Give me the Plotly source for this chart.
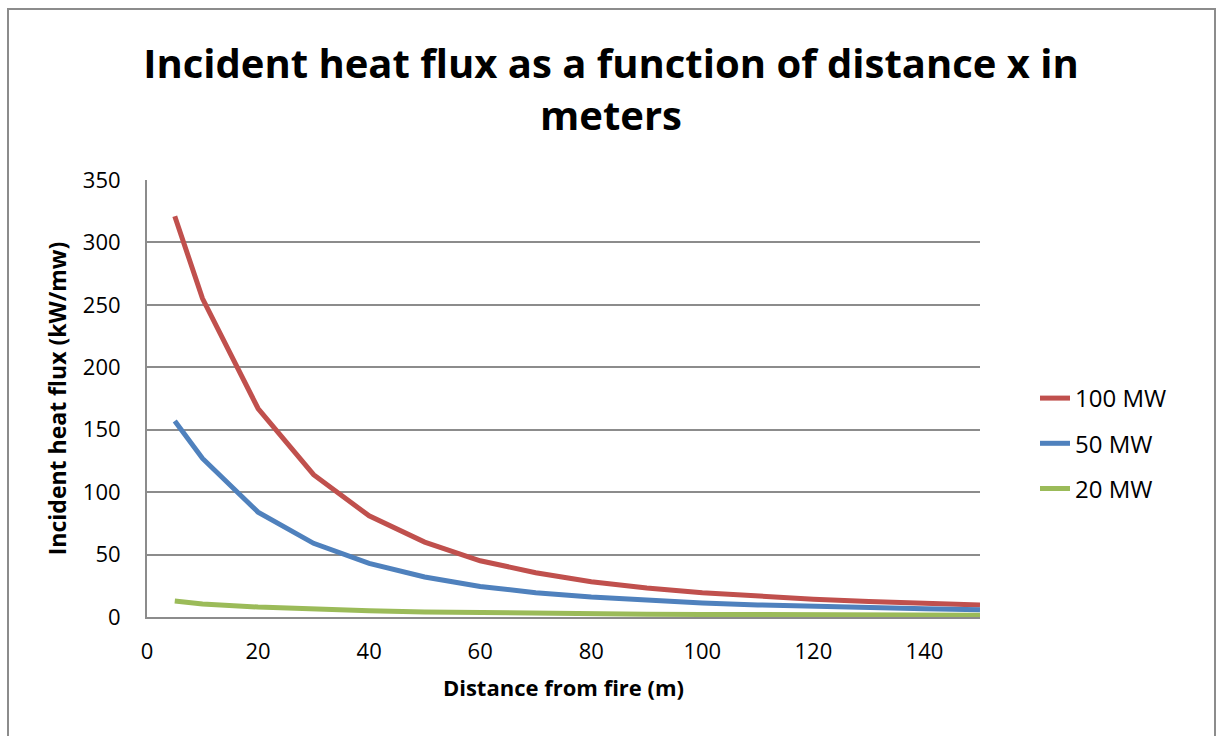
import plotly.graph_objects as go

# Distance from the fire (m)
distance = [5, 10, 20, 30, 40, 50, 60, 70, 80, 90, 100, 110, 120, 130, 140, 150]

# Incident heat flux for each fire size
flux_100mw = [321, 255, 167, 114, 81, 60, 45, 35.5, 28.3, 23.2, 19.5, 16.5, 14.2, 12.4, 10.9, 9.7]
flux_50mw = [157, 127, 84, 59, 43, 32, 24.5, 19.5, 16, 13.3, 11.3, 9.7, 8.4, 7.4, 6.6, 5.9]
flux_20mw = [12.8, 10.5, 8, 6.3, 5, 4, 3.4, 2.9, 2.6, 2.3, 2.1, 1.9, 1.8, 1.6, 1.5, 1.4]

series = [
    ("100 MW", flux_100mw, "#C0504D"),
    ("50 MW", flux_50mw, "#4F81BD"),
    ("20 MW", flux_20mw, "#9BBB59"),
]

FONT = "Open Sans"

fig = go.Figure()
for name, values, color in series:
    fig.add_trace(go.Scatter(
        x=distance, y=values, name=name, mode="lines",
        line=dict(color=color, width=5),
        legendgroup=name,
    ))

W, H = 1219, 736
L, R, T, B = 147, 239, 180, 119

def px_x(p):
    return (p - L) / (W - L - R)

def px_y(p):
    return (H - B - p) / (H - T - B)

fig.update_layout(
    width=W, height=H,
    margin=dict(l=L, r=R, t=T, b=B),
    paper_bgcolor="white", plot_bgcolor="white",
    font=dict(family=FONT, color="black", size=22),
    title=dict(
        text="<b>Incident heat flux as a function of distance x in<br>meters</b>",
        x=611 / W, xref="container", xanchor="center",
        y=1 - 78 / H, yref="container", yanchor="middle",
        font=dict(family=FONT, size=40, color="black"),
    ),
    showlegend=True,
    legend=dict(
        x=px_x(1035), y=px_y(376), xanchor="left", yanchor="top",
        font=dict(family=FONT, size=24),
        tracegroupgap=11,
        bgcolor="rgba(0,0,0,0)",
    ),
    xaxis=dict(
        range=[0, 150], tickvals=[0, 20, 40, 60, 80, 100, 120, 140],
        showgrid=False, showline=True, linecolor="#8C8C8C", linewidth=2,
        ticks="", tickfont=dict(size=22), ticklabelstandoff=14,
        title=dict(text="<b>Distance from fire (m)</b>", font=dict(size=22), standoff=16),
        zeroline=False,
    ),
    yaxis=dict(
        range=[0, 350], dtick=50,
        showgrid=True, gridcolor="#8C8C8C", gridwidth=2,
        showline=True, linecolor="#8C8C8C", linewidth=2,
        ticks="", tickfont=dict(size=22), ticklabelstandoff=20,
        title=dict(text="<b>Incident heat flux (kW/mw)</b>", font=dict(size=23), standoff=10),
        zeroline=False,
    ),
    shapes=[dict(
        type="rect", xref="paper", yref="paper",
        x0=px_x(8), x1=px_x(1215), y0=px_y(760), y1=px_y(9),
        line=dict(color="#8C8C8C", width=2), fillcolor="rgba(0,0,0,0)", layer="below",
    )],
)

fig.write_html("out.html")
